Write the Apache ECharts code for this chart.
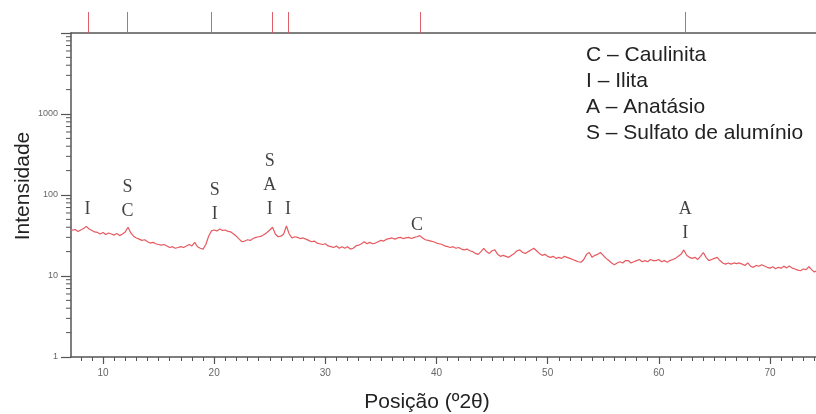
<!DOCTYPE html>
<html><head><meta charset="utf-8">
<script src="https://cdn.jsdelivr.net/npm/echarts@6/dist/echarts.min.js"></script>
<style>html,body{margin:0;padding:0;background:#fff}#c{width:816px;height:414px}</style>
</head><body><div id="c"></div>
<script>
const xLabels = [10, 20, 30, 40, 50, 60, 70];
const yLabels = [1, 10, 100, 1000];
const refPeaks = [8.65, 12.16, 19.71, 25.2, 26.64, 38.51, 62.35];
const legendLines = ['C – Caulinita', 'I – Ilita', 'A – Anatásio', 'S – Sulfato de alumínio'];
const annotX = [8.6, 12.2, 20.05, 25.0, 26.64, 38.24, 62.37];
const annotY = [47.8, 45.2, 41.5, 47.8, 47.8, 30.3, 24.1];
const annotText = ['I', 'S\nC', 'S\nI', 'S\nA\nI', 'I', 'C', 'A\nI'];
const pattern = [[7.12,36.5],[7.25,36],[7.5,37.5],[7.75,35.5],[8,37],[8.25,38.5],[8.5,41],[8.75,38],[9,36.5],[9.25,35],[9.5,34.5],[9.75,33],[10,34.5],[10.25,32.5],[10.5,34],[10.75,33],[11,32],[11.25,33.5],[11.5,31.5],[11.75,33],[12,35],[12.25,40],[12.5,34],[12.75,31],[13,29.5],[13.25,28.5],[13.5,27.5],[13.75,28],[14,26.5],[14.25,25.5],[14.5,26],[14.75,25],[15,24.5],[15.25,24],[15.5,24.5],[15.75,23.5],[16,22.5],[16.25,23],[16.5,22],[16.75,22.5],[17,23],[17.25,22.5],[17.5,23.5],[17.75,24.5],[18,23.5],[18.25,26],[18.5,23],[18.75,22],[19,21.5],[19.25,24.5],[19.5,31],[19.75,36],[20,37],[20.25,36],[20.5,38],[20.75,36.5],[21,37],[21.25,35.5],[21.5,35],[21.75,33],[22,31],[22.25,28.5],[22.5,26.5],[22.75,27],[23,28],[23.25,27.5],[23.5,29],[23.75,30],[24,30.5],[24.25,31],[24.5,32.5],[24.75,34.5],[25,37],[25.25,40],[25.5,33],[25.75,30.5],[26,31],[26.25,33],[26.5,41.5],[26.75,33],[27,29.5],[27.25,30.5],[27.5,30],[27.75,29],[28,29.5],[28.25,28.5],[28.5,27.5],[28.75,26.5],[29,27],[29.25,25.5],[29.5,25],[29.75,24.5],[30,25],[30.25,23.5],[30.5,23],[30.75,22.5],[31,23.5],[31.25,22],[31.5,23],[31.75,22],[32,23],[32.25,21.5],[32.5,22],[32.75,23.5],[33,24],[33.25,25],[33.5,26.5],[33.75,25],[34,26],[34.25,25],[34.5,25.5],[34.75,26.5],[35,27.5],[35.25,27],[35.5,28.5],[35.75,29],[36,29.5],[36.25,28.5],[36.5,29.5],[36.75,30],[37,29],[37.25,29.5],[37.5,30],[37.75,29],[38,30],[38.25,30.5],[38.5,31.5],[38.75,29.5],[39,28],[39.25,27.5],[39.5,27],[39.75,26.5],[40,25.5],[40.25,25],[40.5,24.5],[40.75,23.5],[41,23],[41.25,22.5],[41.5,23],[41.75,22],[42,22.5],[42.25,21.5],[42.5,21],[42.75,21.5],[43,20.5],[43.25,20],[43.5,19],[43.75,18.5],[44,20],[44.25,22],[44.5,20],[44.75,19],[45,20.5],[45.25,21],[45.5,18.5],[45.75,17.5],[46,18],[46.25,17.5],[46.5,17],[46.75,18],[47,19],[47.25,20.5],[47.5,21],[47.75,19.5],[48,19],[48.25,20],[48.5,21],[48.75,22],[49,20.5],[49.25,19],[49.5,18],[49.75,18.5],[50,17.5],[50.25,17],[50.5,17.5],[50.75,16.5],[51,17],[51.25,16.5],[51.5,17.5],[51.75,17],[52,16.5],[52.25,16],[52.5,15.5],[52.75,15],[53,14.8],[53.25,16],[53.5,18.5],[53.75,19.5],[54,17],[54.25,18],[54.5,18.5],[54.75,19.5],[55,18],[55.25,16.5],[55.5,15.5],[55.75,14.5],[56,13.8],[56.25,14.5],[56.5,15],[56.75,14.5],[57,15.5],[57.25,15.5],[57.5,14.5],[57.75,15],[58,15.5],[58.25,16],[58.5,15],[58.75,15.5],[59,15],[59.25,16],[59.5,15.5],[59.75,15.5],[60,16],[60.25,15],[60.5,15.5],[60.75,14.8],[61,15.5],[61.25,16],[61.5,16.5],[61.75,17.5],[62,18.5],[62.25,21],[62.5,18],[62.75,17],[63,16.5],[63.25,17],[63.5,16],[63.75,17.5],[64,19.5],[64.25,17],[64.5,15.5],[64.75,16],[65,16.5],[65.25,17],[65.5,15.5],[65.75,14.5],[66,14],[66.25,14.5],[66.5,14],[66.75,14.5],[67,14.2],[67.25,14.5],[67.5,14],[67.75,13.5],[68,14.5],[68.25,13.2],[68.5,12.8],[68.75,13.5],[69,13.2],[69.25,13.8],[69.5,13.3],[69.75,12.8],[70,12.5],[70.25,13],[70.5,12.3],[70.75,12.8],[71,12.5],[71.25,13.2],[71.5,12.6],[71.75,13.3],[72,12.5],[72.25,12.2],[72.5,11.8],[72.75,11.6],[73,12.2],[73.25,12],[73.5,13],[73.75,12],[74,11.2],[74.14,11.5]];

const xMin = 7.12, xMax = 74.14;
const xMinor = [];
for (let v = 8; v <= 74; v++) if (v % 10 !== 0) xMinor.push(v);
const yMinor = [];
for (let d = 1; d <= 1000; d *= 10) for (let k = 2; k <= 9; k++) yMinor.push(k * d);

const axisColor = '#555';
const chart = echarts.init(document.getElementById('c'), null, {renderer: 'canvas'});
chart.setOption({
  animation: false,
  backgroundColor: '#fff',
  grid: {left: 71, right: 0, top: 33, bottom: 57, containLabel: false},
  xAxis: [
    {type: 'value', position: 'bottom', min: xMin, max: xMax,
     axisLine: {show: true, lineStyle: {color: axisColor, width: 1.5}},
     axisTick: {show: true, customValues: xLabels, length: 7, lineStyle: {color: axisColor, width: 1.2}},
     axisLabel: {show: true, customValues: xLabels, fontSize: 10, color: '#666', margin: 11, fontFamily: 'Liberation Sans'},
     splitLine: {show: false}},
    {type: 'value', position: 'bottom', min: xMin, max: xMax,
     axisLine: {show: false},
     axisTick: {show: true, customValues: xMinor, length: 4, lineStyle: {color: axisColor, width: 1}},
     axisLabel: {show: false}, splitLine: {show: false}},
    {type: 'value', position: 'top', min: xMin, max: xMax,
     axisLine: {show: true, lineStyle: {color: axisColor, width: 1.5}},
     axisTick: {show: true, customValues: refPeaks, length: 21, lineStyle: {color: '#e0606a', width: 1}},
     axisLabel: {show: false}, splitLine: {show: false}}
  ],
  yAxis: {type: 'log', logBase: 10, min: 1, max: 10000,
    axisLine: {show: true, lineStyle: {color: axisColor, width: 1.5}},
    axisTick: {show: true, length: 10, lineStyle: {color: axisColor, width: 1.2}},
    axisLabel: {fontSize: 9, color: '#666', margin: 13, fontFamily: 'Liberation Sans',
      formatter: v => { const r = Math.round(v); return yLabels.indexOf(r) >= 0 ? String(r) : ''; }},
    splitLine: {show: false}},
  series: [
    {type: 'line', data: pattern, showSymbol: false, symbol: 'none',
     lineStyle: {color: '#e65a60', width: 1.2}, silent: true},
    {type: 'custom', silent: true, clip: false,
     data: yMinor.map(v => [xMin, v]),
     renderItem: (p, api) => {
       const pt = api.coord([api.value(0), api.value(1)]);
       return {type: 'line', shape: {x1: pt[0] - 5, y1: pt[1], x2: pt[0], y2: pt[1]},
               style: {stroke: axisColor, lineWidth: 1}};
     }},
    {type: 'scatter', symbolSize: 0, silent: true,
     data: annotText.map((t, i) => ({value: [annotX[i], annotY[i]], label: {formatter: t}})),
     label: {show: true, position: 'top', distance: 0, fontFamily: 'Liberation Serif',
             fontSize: 18, lineHeight: 24, color: '#111'}}
  ],
  graphic: [
    {type: 'text', x: 23, y: 186, rotation: Math.PI / 2,
     style: {text: 'Intensidade', fontSize: 21, fontFamily: 'Liberation Sans', fill: '#222',
             align: 'center', verticalAlign: 'middle'}},
    {type: 'text', x: 427, y: 402,
     style: {text: 'Posição (º2θ)', fontSize: 21, fontFamily: 'Liberation Sans', fill: '#222',
             align: 'center', verticalAlign: 'middle'}}
  ].concat(legendLines.map((t, i) => ({
     type: 'text', x: 586, y: 55 + i * 26,
     style: {text: t, fontSize: 21, fontFamily: 'Liberation Sans', fill: '#222',
             align: 'left', verticalAlign: 'middle'}})))
});
</script></body></html>
